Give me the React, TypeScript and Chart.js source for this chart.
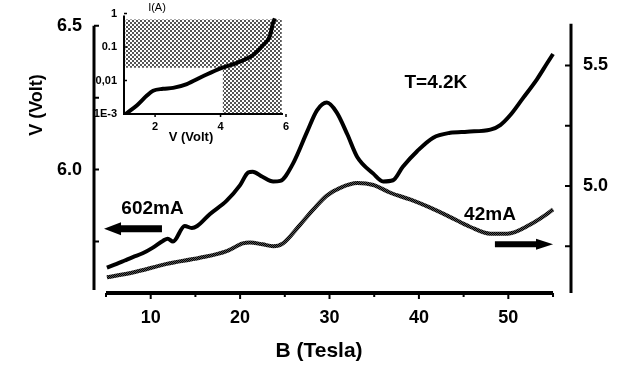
import React, { useEffect, useRef } from "react";
import { Chart, registerables } from "chart.js";
Chart.register(...registerables);

const FONT = "'Liberation Sans', Arial, Helvetica, sans-serif";

// ---- main chart data ----
const B_602 = [5.1, 6.2, 7.1, 8.0, 9.1, 10.2, 11.4, 11.9, 12.5, 13.8, 14.6, 15.2, 16.6, 18.5, 20.0, 20.9, 21.4, 22.5, 23.7, 24.5, 25.9, 27.5, 28.6, 29.7, 30.8, 32.0, 33.1, 34.9, 36.0, 37.1, 38.2, 39.8, 41.6, 43.5, 45.4, 48.0, 49.1, 50.2, 51.6, 53.2, 54.3, 55.0];
const V_602 = [5.659, 5.672, 5.684, 5.696, 5.709, 5.728, 5.753, 5.76, 5.75, 5.804, 5.797, 5.804, 5.845, 5.892, 5.946, 5.99, 5.993, 5.975, 5.959, 5.961, 6.02, 6.132, 6.206, 6.233, 6.199, 6.122, 6.044, 5.986, 5.959, 5.963, 6.01, 6.064, 6.111, 6.128, 6.132, 6.139, 6.155, 6.189, 6.247, 6.314, 6.368, 6.402];
const B_42 = [5.1, 8.0, 11.8, 15.5, 18.5, 20.3, 21.1, 22.5, 23.7, 24.8, 26.7, 28.2, 29.7, 31.2, 33.1, 34.9, 36.8, 39.0, 41.2, 43.5, 45.7, 48.0, 49.9, 52.4, 54.3, 55.0];
const V_42 = [4.621, 4.641, 4.677, 4.702, 4.73, 4.762, 4.766, 4.758, 4.75, 4.762, 4.839, 4.903, 4.96, 4.992, 5.012, 5.004, 4.972, 4.944, 4.911, 4.871, 4.831, 4.802, 4.802, 4.839, 4.883, 4.903];

const X_RANGE = [3.77, 57.01];
const X_TICKS = [10, 20, 30, 40, 50];
const X_MINOR = [5, 15, 25, 35, 45, 55];
const LEFT_RANGE = [5.571, 6.507];
const LEFT_TICKS = [6.0, 6.5];
const LEFT_MINOR = [5.75, 6.25];
const LEFT_SPAN = [5.581, 6.5];
const RIGHT_RANGE = [4.556, 5.673];
const RIGHT_TICKS = [5.0, 5.5];
const RIGHT_MINOR = [4.75, 5.25];

// annotations (data coordinates)
const LABEL_T = { text: "T=4.2K", x: 41.9, y: 6.301 };
const LABEL_602 = { text: "602mA", x: 10.2, y: 5.863 };
const LABEL_42 = { text: "42mA", x: 47.95, y: 4.881 };
const ARROW_602 = { from: 11.26, to: 4.78, y: 5.794 };
const ARROW_42 = { from: 48.5, to: 55.0, y: 4.758 };

// ---- inset data ----
const INSET_V = [1.1, 1.45, 1.75, 1.94, 2.24, 2.55, 2.97, 3.46, 3.98, 4.5, 4.99, 5.29, 5.51, 5.6, 5.66];
const INSET_I = [0.001, 0.00183, 0.00355, 0.00495, 0.00565, 0.00604, 0.00787, 0.0134, 0.0228, 0.0339, 0.0577, 0.112, 0.217, 0.515, 0.72];
const INSET_X_RANGE = [1.05, 6.0];
const INSET_Y_RANGE = [0.001, 1];
const INSET_X_TICKS = [2, 4, 6];
const INSET_Y_TICKS = [0.001, 0.01, 0.1, 1];
const INSET_Y_LABELS = ["1E-3", "0,01", "0.1", "1"];
const SHADE_TOP_V = [1.1, 5.87];
const SHADE_TOP_I = [0.0243, 0.67];
const SHADE_SIDE_V = [4.07, 5.87];
const SHADE_SIDE_I = [0.001, 0.0243];

function makePattern(ctx: CanvasRenderingContext2D, size: number, cell: number, dark: string, light: string) {
  const c = document.createElement("canvas");
  c.width = size;
  c.height = size;
  const g = c.getContext("2d")!;
  g.fillStyle = light;
  g.fillRect(0, 0, size, size);
  g.fillStyle = dark;
  for (let y = 0; y < size; y += cell) {
    for (let x = 0; x < size; x += cell) {
      if ((x / cell + y / cell) % 2 === 0) g.fillRect(x, y, cell, cell);
    }
  }
  return ctx.createPattern(c, "repeat")!;
}

function rectPoints(v: number[], i: number[]) {
  return [
    { x: v[0], y: i[0] },
    { x: v[1], y: i[0] },
    { x: v[1], y: i[1] },
    { x: v[0], y: i[1] },
    { x: v[0], y: i[0] },
  ];
}

function arrow(ctx: CanvasRenderingContext2D, x0: number, x1: number, y: number, bar: number, headLen: number, headH: number) {
  const dir = Math.sign(x1 - x0);
  const hb = x1 - dir * headLen;
  ctx.beginPath();
  ctx.moveTo(x0, y - bar / 2);
  ctx.lineTo(hb, y - bar / 2);
  ctx.lineTo(hb, y - headH / 2);
  ctx.lineTo(x1, y);
  ctx.lineTo(hb, y + headH / 2);
  ctx.lineTo(hb, y + bar / 2);
  ctx.lineTo(x0, y + bar / 2);
  ctx.closePath();
  ctx.fill();
}

export default function App() {
  const mainRef = useRef<HTMLCanvasElement>(null);
  const insetRef = useRef<HTMLCanvasElement>(null);

  useEffect(() => {
    const mctx = mainRef.current!.getContext("2d")!;
    const lowPattern = makePattern(mctx, 2, 1, "#000", "#555");

    const mainOverlay = {
      id: "mainOverlay",
      afterDraw(chart: any) {
        const ctx = chart.ctx as CanvasRenderingContext2D;
        const x = chart.scales.x;
        const yl = chart.scales.y;
        const yr = chart.scales.y2;
        const a = chart.chartArea;
        ctx.save();
        ctx.strokeStyle = "#000";
        ctx.fillStyle = "#000";
        ctx.lineWidth = 3;
        ctx.beginPath();
        ctx.moveTo(a.left - 1, yl.getPixelForValue(LEFT_SPAN[1]));
        ctx.lineTo(a.left - 1, yl.getPixelForValue(LEFT_SPAN[0]));
        ctx.moveTo(a.right, a.top);
        ctx.lineTo(a.right, a.bottom);
        ctx.stroke();
        ctx.lineWidth = 4;
        ctx.beginPath();
        ctx.moveTo(x.getPixelForValue(X_MINOR[0]), a.bottom);
        ctx.lineTo(x.getPixelForValue(X_MINOR[X_MINOR.length - 1]), a.bottom);
        ctx.stroke();
        ctx.lineWidth = 2;
        ctx.beginPath();
        X_TICKS.forEach((v) => {
          const px = x.getPixelForValue(v);
          ctx.moveTo(px, a.bottom);
          ctx.lineTo(px, a.bottom + 6);
        });
        X_MINOR.forEach((v) => {
          const px = x.getPixelForValue(v);
          ctx.moveTo(px, a.bottom);
          ctx.lineTo(px, a.bottom + 4);
        });
        LEFT_TICKS.concat(LEFT_MINOR).forEach((v) => {
          const py = yl.getPixelForValue(v);
          ctx.moveTo(a.left - 1, py);
          ctx.lineTo(a.left + 4, py);
        });
        RIGHT_TICKS.concat(RIGHT_MINOR).forEach((v) => {
          const py = yr.getPixelForValue(v);
          ctx.moveTo(a.right, py);
          ctx.lineTo(a.right - 6, py);
        });
        ctx.stroke();
        arrow(ctx, x.getPixelForValue(ARROW_602.from), x.getPixelForValue(ARROW_602.to), yl.getPixelForValue(ARROW_602.y), 7, 17, 13);
        arrow(ctx, x.getPixelForValue(ARROW_42.from), x.getPixelForValue(ARROW_42.to), yr.getPixelForValue(ARROW_42.y), 6, 17, 11);
        ctx.textAlign = "center";
        ctx.textBaseline = "middle";
        ctx.font = `bold 19px ${FONT}`;
        ctx.fillText(LABEL_T.text, x.getPixelForValue(LABEL_T.x), yl.getPixelForValue(LABEL_T.y));
        ctx.fillText(LABEL_602.text, x.getPixelForValue(LABEL_602.x), yl.getPixelForValue(LABEL_602.y));
        ctx.fillText(LABEL_42.text, x.getPixelForValue(LABEL_42.x), yr.getPixelForValue(LABEL_42.y));
        ctx.font = `bold 21px ${FONT}`;
        ctx.fillText("B (Tesla)", 319, 351);
        ctx.save();
        ctx.translate(37, 105);
        ctx.rotate(-Math.PI / 2);
        ctx.font = `bold 18px ${FONT}`;
        ctx.fillText("V (Volt)", 0, 0);
        ctx.restore();
        ctx.restore();
      },
    };

    const tickFont = { family: FONT, size: 18, weight: "bold" as const };
    const noGrid = { display: false, drawTicks: false };

    const main = new Chart(mainRef.current!, {
      type: "line",
      data: {
        datasets: [
          {
            label: "602mA",
            data: B_602.map((b, i) => ({ x: b, y: V_602[i] })),
            yAxisID: "y",
            borderColor: "#000",
            borderWidth: 4,
            pointRadius: 0,
            tension: 0.4,
            cubicInterpolationMode: "monotone",
            fill: false,
          },
          {
            label: "42mA",
            data: B_42.map((b, i) => ({ x: b, y: V_42[i] })),
            yAxisID: "y2",
            borderColor: lowPattern as any,
            borderWidth: 4,
            pointRadius: 0,
            tension: 0.4,
            cubicInterpolationMode: "monotone",
            fill: false,
          },
        ],
      },
      options: {
        responsive: false,
        animation: false,
        devicePixelRatio: 1,
        layout: { padding: { top: 16, left: 0, right: 0, bottom: 0 }, autoPadding: false } as any,
        plugins: { legend: { display: false }, tooltip: { enabled: false } },
        events: [],
        scales: {
          x: {
            type: "linear",
            position: "bottom",
            min: X_RANGE[0],
            max: X_RANGE[1],
            grid: noGrid,
            border: { display: false },
            ticks: { font: tickFont, color: "#000", padding: 14, maxRotation: 0, autoSkip: false },
            afterBuildTicks: (s: any) => {
              s.ticks = X_TICKS.map((v) => ({ value: v }));
            },
            afterFit: (s: any) => {
              s.height = 79;
            },
          },
          y: {
            type: "linear",
            position: "left",
            min: LEFT_RANGE[0],
            max: LEFT_RANGE[1],
            grid: noGrid,
            border: { display: false },
            ticks: { font: tickFont, color: "#000", padding: 13, callback: (v: any) => Number(v).toFixed(1) },
            afterBuildTicks: (s: any) => {
              s.ticks = LEFT_TICKS.map((v) => ({ value: v }));
            },
            afterFit: (s: any) => {
              s.width = 95;
            },
          },
          y2: {
            type: "linear",
            position: "right",
            min: RIGHT_RANGE[0],
            max: RIGHT_RANGE[1],
            grid: noGrid,
            border: { display: false },
            ticks: { font: tickFont, color: "#000", padding: 12, callback: (v: any) => Number(v).toFixed(1) },
            afterBuildTicks: (s: any) => {
              s.ticks = RIGHT_TICKS.map((v) => ({ value: v }));
            },
            afterFit: (s: any) => {
              s.width = 60;
            },
          },
        },
      },
      plugins: [mainOverlay],
    });

    const ictx = insetRef.current!.getContext("2d")!;
    const shade = makePattern(ictx, 4, 2, "#555", "#fff");

    const insetOverlay = {
      id: "insetOverlay",
      afterDraw(chart: any) {
        const ctx = chart.ctx as CanvasRenderingContext2D;
        const x = chart.scales.x;
        const y = chart.scales.y;
        const a = chart.chartArea;
        ctx.save();
        ctx.strokeStyle = "#000";
        ctx.fillStyle = "#000";
        ctx.lineWidth = 2;
        ctx.beginPath();
        ctx.moveTo(a.left, a.top + 2);
        ctx.lineTo(a.left, a.bottom);
        ctx.lineTo(a.right - 3, a.bottom);
        ctx.stroke();
        ctx.lineWidth = 1.5;
        ctx.beginPath();
        INSET_X_TICKS.forEach((v) => {
          const px = x.getPixelForValue(v);
          ctx.moveTo(px, a.bottom);
          ctx.lineTo(px, a.bottom + 3);
        });
        INSET_Y_TICKS.forEach((v) => {
          const py = y.getPixelForValue(v);
          ctx.moveTo(a.left, py);
          ctx.lineTo(a.left + 3, py);
        });
        ctx.stroke();
        ctx.textAlign = "center";
        ctx.textBaseline = "middle";
        ctx.font = `11px ${FONT}`;
        ctx.fillText("I(A)", 157, 8);
        ctx.font = `bold 13px ${FONT}`;
        ctx.fillText("V (Volt)", 191, 137);
        ctx.restore();
      },
    };

    const smallFont = { family: FONT, size: 11, weight: "bold" as const };

    const inset = new Chart(insetRef.current!, {
      type: "line",
      data: {
        datasets: [
          {
            label: "I-V",
            data: INSET_V.map((v, i) => ({ x: v, y: INSET_I[i] })),
            borderColor: "#000",
            borderWidth: 4,
            pointRadius: 0,
            tension: 0.4,
            cubicInterpolationMode: "monotone",
            fill: false,
            order: 0,
          },
          {
            label: "shade1",
            data: rectPoints(SHADE_TOP_V, SHADE_TOP_I),
            borderWidth: 0,
            borderColor: "rgba(0,0,0,0)",
            backgroundColor: shade as any,
            pointRadius: 0,
            tension: 0,
            fill: "shape" as any,
            order: 1,
          },
          {
            label: "shade2",
            data: rectPoints(SHADE_SIDE_V, SHADE_SIDE_I),
            borderWidth: 0,
            borderColor: "rgba(0,0,0,0)",
            backgroundColor: shade as any,
            pointRadius: 0,
            tension: 0,
            fill: "shape" as any,
            order: 1,
          },
        ],
      },
      options: {
        responsive: false,
        animation: false,
        devicePixelRatio: 1,
        layout: { padding: { top: 10, left: 64, right: 345, bottom: 228 }, autoPadding: false } as any,
        plugins: { legend: { display: false }, tooltip: { enabled: false } },
        events: [],
        scales: {
          x: {
            type: "linear",
            min: INSET_X_RANGE[0],
            max: INSET_X_RANGE[1],
            grid: noGrid,
            border: { display: false },
            ticks: { font: smallFont, color: "#000", padding: 6, maxRotation: 0, autoSkip: false },
            afterBuildTicks: (s: any) => {
              s.ticks = INSET_X_TICKS.map((v) => ({ value: v }));
            },
            afterFit: (s: any) => {
              s.height = 30;
            },
          },
          y: {
            type: "logarithmic",
            min: INSET_Y_RANGE[0],
            max: INSET_Y_RANGE[1],
            grid: noGrid,
            border: { display: false },
            ticks: {
              font: smallFont,
              color: "#000",
              padding: 7,
              autoSkip: false,
              callback: (v: any) => {
                const k = INSET_Y_TICKS.findIndex((t) => Math.abs(t - v) / t < 1e-6);
                return k >= 0 ? INSET_Y_LABELS[k] : "";
              },
            },
            afterBuildTicks: (s: any) => {
              s.ticks = INSET_Y_TICKS.map((v) => ({ value: v }));
            },
            afterFit: (s: any) => {
              s.width = 60;
            },
          },
        },
      },
      plugins: [insetOverlay],
    });

    return () => {
      main.destroy();
      inset.destroy();
    };
  }, []);

  return (
    <div style={{ position: "fixed", left: 0, top: 0, width: 631, height: 372, background: "#fff" }}>
      <canvas ref={mainRef} width={631} height={372} style={{ position: "absolute", left: 0, top: 0, width: 631, height: 372 }} />
      <canvas ref={insetRef} width={631} height={372} style={{ position: "absolute", left: 0, top: 0, width: 631, height: 372, pointerEvents: "none" }} />
    </div>
  );
}
